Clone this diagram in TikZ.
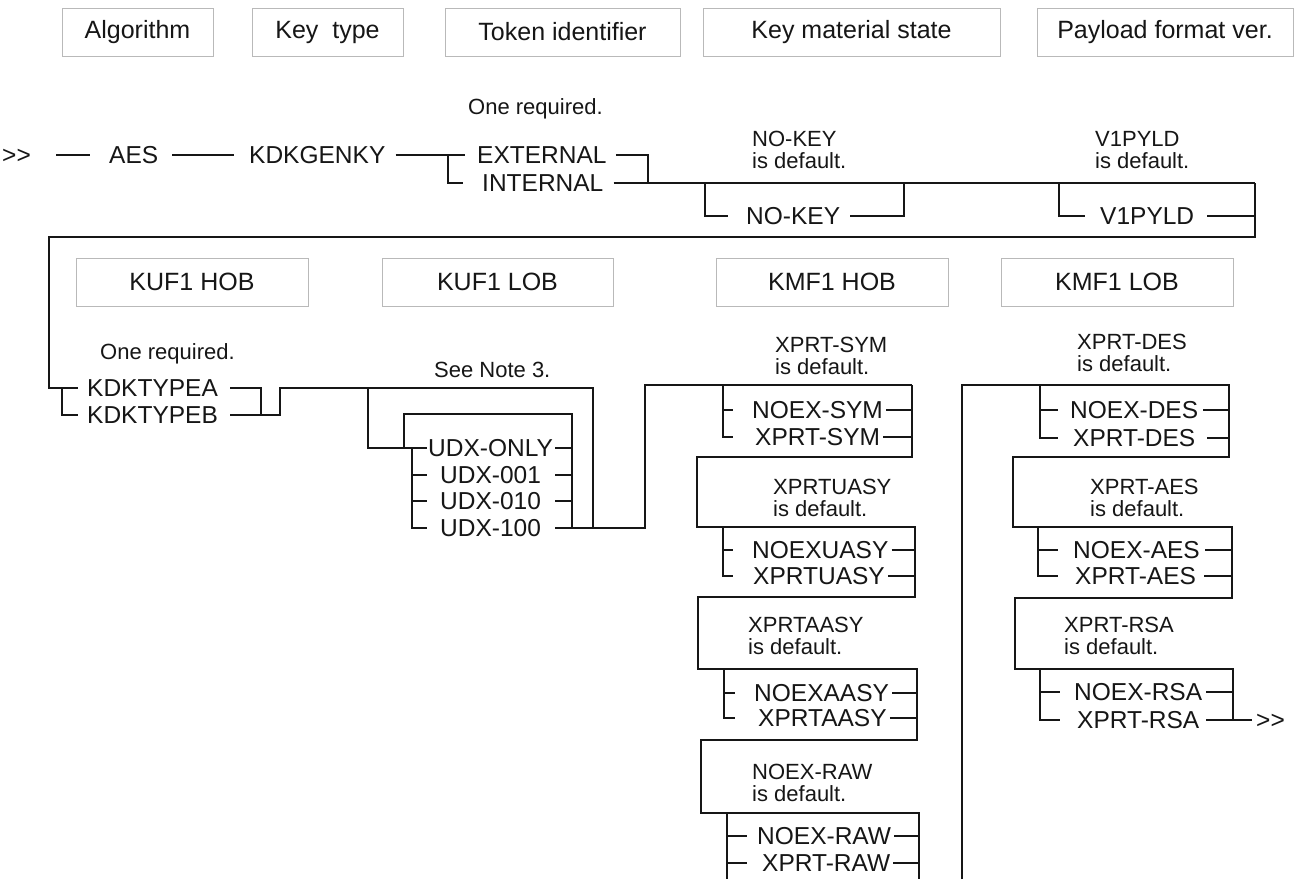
\documentclass[tikz,border=0pt]{standalone}
\usepackage{fontspec}
\setmainfont{Liberation Sans}
\definecolor{ink}{HTML}{161616}
\definecolor{frame}{HTML}{B9B9B9}
\newcommand{\kwfont}{\fontsize{24.5}{26}\selectfont}
\newcommand{\notefont}{\fontsize{22}{22}\selectfont}
\newcommand{\headfont}{\fontsize{25}{27}\selectfont}
\newcommand{\railend}{>\kern0pt>}

\begin{document}
\begin{tikzpicture}[
  x=1pt, y=-1pt,
  rail/.style={line width=2pt, draw=ink},
  head/.style={draw=frame, line width=1pt, inner sep=0pt, minimum height=48pt,
               font=\headfont, text=ink},
  kw/.style={anchor=west, inner sep=0pt, font=\kwfont, text=ink,
             text height=17.5pt, text depth=0pt},
  note/.style={anchor=north west, inner sep=0pt, font=\notefont, text=ink, align=left}
]
\useasboundingbox (0,0) rectangle (1295,879);
\fill[white] (0,0) rectangle (1295,879);

% column headings
\node[head, minimum width=151pt] (hAlg) at (137.5,32) {Algorithm};
\node[head, minimum width=151pt] (hKey) at (327.5,32) {Key\ \ type};
\node[head, minimum width=235pt] (hTok) at (562.5,32) {Token identifier};
\node[head, minimum width=297pt] (hKms) at (851.5,32) {Key material state};
\node[head, minimum width=256pt] (hPay) at (1165,32) {Payload format ver.};
\node[head, minimum width=232pt] (hKufH) at (192,282) {KUF1 HOB};
\node[head, minimum width=231pt] (hKufL) at (497.5,282) {KUF1 LOB};
\node[head, minimum width=232pt] (hKmfH) at (832,282) {KMF1 HOB};
\node[head, minimum width=232pt] (hKmfL) at (1117,282) {KMF1 LOB};

% first line
\node[kw] (start) at (2,155) {\railend};
\node[kw] (aes) at (109,155) {AES};
\node[kw] (genky) at (249,155) {KDKGENKY};
\node[kw] (ext) at (477,155) {EXTERNAL};
\node[kw] (int) at (482,183) {INTERNAL};
\node[kw] (nokey) at (746,216) {NO-KEY};
\node[kw] (v1) at (1100,216) {V1PYLD};
\node[note] (tokNote) at (468,98) {One required.};
\node[note] (kmsNote) at (752,131) {NO-KEY\\is default.};
\node[note] (payNote) at (1095,131) {V1PYLD\\is default.};

\coordinate (tokL) at (448,155);
\coordinate (tokR) at (648,155);
\coordinate (kmsL) at (705,183);
\coordinate (kmsR) at (904,183);
\coordinate (payL) at (1059,183);
\coordinate (payR) at (1255,183);
\coordinate (wrapR) at (1255,237);
\coordinate (wrapL) at (49,237);

\draw[rail] ([xshift=25pt]start.east) -- ([xshift=-19pt]aes.west);
\draw[rail] ([xshift=14pt]aes.east) -- ([xshift=-15pt]genky.west);
\draw[rail] ([xshift=10pt]genky.east) -- ([xshift=-12pt]ext.west);
\draw[rail] (tokL) |- ([xshift=-19pt]int.west);
\draw[rail] ([xshift=9pt]ext.east) -| (tokR |- int.east);
\draw[rail] ([xshift=10pt]int.east) -- (payR);
\draw[rail] (kmsL) |- ([xshift=-18pt]nokey.west);
\draw[rail] ([xshift=10pt]nokey.east) -| (kmsR);
\draw[rail] (payL) |- ([xshift=-15pt]v1.west);
\draw[rail] ([xshift=13pt]v1.east) -- (v1.east -| payR);

% second line
\node[kw] (typeA) at (87,388) {KDKTYPEA};
\node[kw] (typeB) at (87,415) {KDKTYPEB};
\node[kw] (udxOnly) at (428,448) {UDX-ONLY};
\node[kw] (udx001) at (440,475) {UDX-001};
\node[kw] (udx010) at (440,501) {UDX-010};
\node[kw] (udx100) at (440,528) {UDX-100};
\node[note] (kufNote) at (100,343) {One required.};
\node[note] (lobNote) at (434,362) {See Note 3.};

\coordinate (kufL) at (62,388);
\coordinate (kufR) at (261,388);
\coordinate (kufJ) at (280,388);
\coordinate (lobL) at (368,388);
\coordinate (lobR) at (593,388);
\coordinate (loopL) at (404,414);
\coordinate (loopR) at (572,414);
\coordinate (udxL) at (412,448);
\coordinate (kmfJ) at (645,385);
\coordinate (hobR) at (912,385);

\draw[rail] (payR) -- (wrapR) -- (wrapL) |- ([xshift=-9pt]typeA.west);
\draw[rail] (kufL) |- ([xshift=-9pt]typeB.west);
\draw[rail] ([xshift=12pt]typeA.east) -| (kufR |- typeB.east);
\draw[rail] ([xshift=12pt]typeB.east) -| (kufJ) -- (lobR) -- (lobR |- udx100.east);
\draw[rail] (lobL) |- ([xshift=-1pt]udxOnly.west);
\draw[rail] (loopL |- udxOnly.west) -- (loopL) -| (loopR |- udx100.east);
\draw[rail] (udxL) |- ([xshift=-13pt]udx100.west);
\draw[rail] (udxL |- udx001.west) -- ([xshift=-13pt]udx001.west);
\draw[rail] (udxL |- udx010.west) -- ([xshift=-13pt]udx010.west);
\draw[rail] ([xshift=2pt]udxOnly.east) -- (udxOnly.east -| loopR);
\draw[rail] ([xshift=14pt]udx001.east) -- (udx001.east -| loopR);
\draw[rail] ([xshift=14pt]udx010.east) -- (udx010.east -| loopR);
\draw[rail] ([xshift=14pt]udx100.east) -| (kmfJ) -- (hobR);

% KMF1 HOB column
\node[kw] (noexSym) at (752,410) {NOEX-SYM};
\node[kw] (xprtSym) at (755,437) {XPRT-SYM};
\node[kw] (noexUasy) at (752,550) {NOEXUASY};
\node[kw] (xprtUasy) at (753,576) {XPRTUASY};
\node[kw] (noexAasy) at (754,693) {NOEXAASY};
\node[kw] (xprtAasy) at (758,718) {XPRTAASY};
\node[kw] (noexRaw) at (757,836) {NOEX-RAW};
\node[kw] (xprtRaw) at (762,863) {XPRT-RAW};
\node[note] (symNote) at (775,337) {XPRT-SYM\\is default.};
\node[note] (uasyNote) at (773,479) {XPRTUASY\\is default.};
\node[note] (aasyNote) at (748,617) {XPRTAASY\\is default.};
\node[note] (rawNote) at (752,764) {NOEX-RAW\\is default.};

\coordinate (symL) at (723,385);
\coordinate (symB) at (697,457);
\coordinate (uasyL) at (723,527);
\coordinate (uasyR) at (915,527);
\coordinate (uasyB) at (698,597);
\coordinate (aasyL) at (724,669);
\coordinate (aasyR) at (917,669);
\coordinate (aasyB) at (701,740);
\coordinate (rawL) at (727,813);
\coordinate (rawR) at (919,813);
\coordinate (rawEndL) at (727,879);
\coordinate (rawEndR) at (919,879);

\draw[rail] (hobR) |- (symB) |- (uasyR) |- (uasyB) |- (aasyR) |- (aasyB) |- (rawR) -- (rawEndR);
\draw[rail] (symL) |- ([xshift=-22pt]xprtSym.west);
\draw[rail] (symL |- noexSym.west) -- ([xshift=-19pt]noexSym.west);
\draw[rail] ([xshift=3pt]noexSym.east) -- (noexSym.east -| hobR);
\draw[rail] ([xshift=3pt]xprtSym.east) -- (xprtSym.east -| hobR);
\draw[rail] (uasyL) |- ([xshift=-20pt]xprtUasy.west);
\draw[rail] (uasyL |- noexUasy.west) -- ([xshift=-19pt]noexUasy.west);
\draw[rail] ([xshift=3pt]noexUasy.east) -- (noexUasy.east -| uasyR);
\draw[rail] ([xshift=3pt]xprtUasy.east) -- (xprtUasy.east -| uasyR);
\draw[rail] (aasyL) |- ([xshift=-23pt]xprtAasy.west);
\draw[rail] (aasyL |- noexAasy.west) -- ([xshift=-19pt]noexAasy.west);
\draw[rail] ([xshift=3pt]noexAasy.east) -- (noexAasy.east -| aasyR);
\draw[rail] ([xshift=3pt]xprtAasy.east) -- (xprtAasy.east -| aasyR);
\draw[rail] (rawL) -- (rawEndL);
\draw[rail] (rawL |- noexRaw.west) -- ([xshift=-10pt]noexRaw.west);
\draw[rail] (rawL |- xprtRaw.west) -- ([xshift=-15pt]xprtRaw.west);
\draw[rail] ([xshift=3pt]noexRaw.east) -- (noexRaw.east -| rawR);
\draw[rail] ([xshift=3pt]xprtRaw.east) -- (xprtRaw.east -| rawR);

% KMF1 LOB column
\node[kw] (noexDes) at (1070,410) {NOEX-DES};
\node[kw] (xprtDes) at (1073,438) {XPRT-DES};
\node[kw] (noexAes) at (1073,550) {NOEX-AES};
\node[kw] (xprtAes) at (1075,576) {XPRT-AES};
\node[kw] (noexRsa) at (1074,692) {NOEX-RSA};
\node[kw] (xprtRsa) at (1077,720) {XPRT-RSA};
\node[kw] (stop) at (1256,720) {\railend};
\node[note] (desNote) at (1077,334) {XPRT-DES\\is default.};
\node[note] (aesNote) at (1090,479) {XPRT-AES\\is default.};
\node[note] (rsaNote) at (1064,617) {XPRT-RSA\\is default.};

\coordinate (lobTop) at (962,385);
\coordinate (lobFoot) at (962,879);
\coordinate (desL) at (1040,385);
\coordinate (desR) at (1229,385);
\coordinate (desB) at (1013,457);
\coordinate (aesL) at (1038,527);
\coordinate (aesR) at (1232,527);
\coordinate (aesB) at (1015,598);
\coordinate (rsaL) at (1040,669);
\coordinate (rsaR) at (1233,669);

\draw[rail] (lobFoot) -- (lobTop) -- (desR) |- (desB) |- (aesR) |- (aesB) |- (rsaR) -- (rsaR |- xprtRsa.east);
\draw[rail] (desL) |- ([xshift=-15pt]xprtDes.west);
\draw[rail] (desL |- noexDes.west) -- ([xshift=-12pt]noexDes.west);
\draw[rail] ([xshift=5pt]noexDes.east) -- (noexDes.east -| desR);
\draw[rail] ([xshift=12pt]xprtDes.east) -- (xprtDes.east -| desR);
\draw[rail] (aesL) |- ([xshift=-17pt]xprtAes.west);
\draw[rail] (aesL |- noexAes.west) -- ([xshift=-15pt]noexAes.west);
\draw[rail] ([xshift=5pt]noexAes.east) -- (noexAes.east -| aesR);
\draw[rail] ([xshift=8pt]xprtAes.east) -- (xprtAes.east -| aesR);
\draw[rail] (rsaL) |- ([xshift=-17pt]xprtRsa.west);
\draw[rail] (rsaL |- noexRsa.west) -- ([xshift=-14pt]noexRsa.west);
\draw[rail] ([xshift=4pt]noexRsa.east) -- (noexRsa.east -| rsaR);
\draw[rail] ([xshift=7pt]xprtRsa.east) -- ([xshift=-4pt]stop.west);
\end{tikzpicture}
\end{document}
